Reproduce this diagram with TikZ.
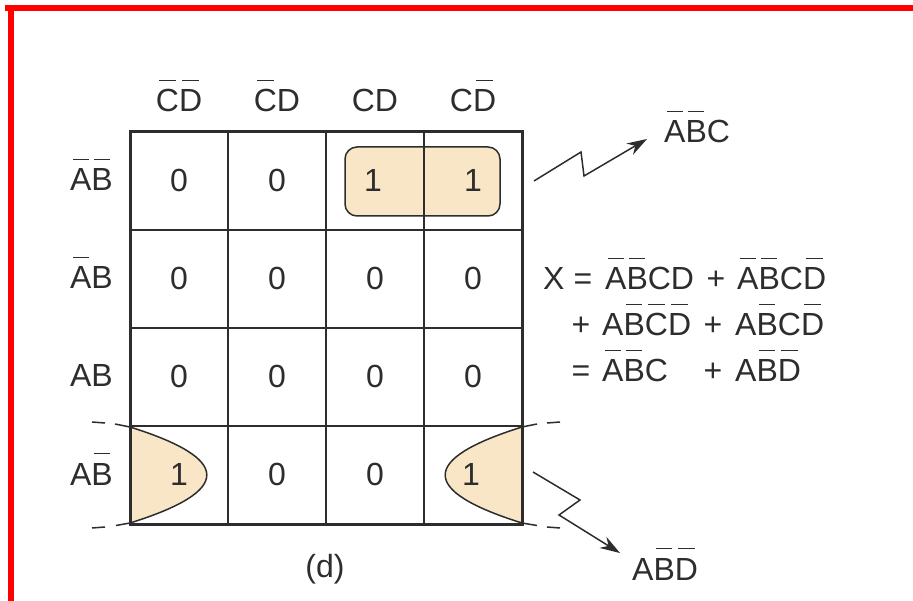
\documentclass[tikz,border=0pt]{standalone}
\usepackage{fontspec}
\setmainfont{Liberation Sans}
\usetikzlibrary{arrows.meta}
\definecolor{ink}{RGB}{45,45,45}
\definecolor{beige}{RGB}{249,230,199}
\newcommand\fs{\fontsize{32}{36}\selectfont}
\newcommand\ob[1]{{\setbox0\hbox{#1}\rlap{\hspace{0.13\wd0}\raisebox{\dimexpr\ht0+8.5pt\relax}{\rule{0.74\wd0}{1.5pt}}}\box0}}
\begin{document}
\begin{tikzpicture}[x=1pt,y=-1pt,
  txt/.style={font=\fs,text=ink,inner sep=0pt,anchor=base},
  lbl/.style={txt,anchor=base east},
  eq/.style={txt,anchor=base west},
  gridline/.style={draw=ink,line width=1.8pt},
  outer/.style={draw=ink,line width=3pt},
  loop/.style={draw=ink,line width=1.5pt,fill=beige},
  ext/.style={draw=ink,line width=1.5pt},
  bolt/.style={draw=ink,line width=1.5pt,-{Stealth[length=20pt,width=13pt]}}]
\useasboundingbox (0,0) rectangle (913,601);
% red frame
\fill[red] (5,5) rectangle (913,11);
\fill[red] (8,5) rectangle (14,601);
% groupings
\draw[loop,rounded corners=12pt] (345,147) rectangle (500,216);
\fill[beige] (130,427) .. controls (232.4,459) and (232.4,491) .. (130,523) -- cycle;
\draw[ext] (130,427) .. controls (232.4,459) and (232.4,491) .. (130,523);
\fill[beige] (522,427) .. controls (419.6,459) and (419.6,491) .. (522,523) -- cycle;
\draw[ext] (522,427) .. controls (419.6,459) and (419.6,491) .. (522,523);
% extensions
\draw[ext] (130,427) -- (115,424) (105,423) -- (92,422);
\draw[ext] (130,523) -- (116,525.5) (105,527) -- (92,528);
\draw[ext] (522,427) -- (537,424) (547,423) -- (560,422);
\draw[ext] (522,523) -- (537,525.5) (547,527) -- (560,528);
% grid
\foreach \x in {228,326,424} \draw[gridline] (\x,132) -- (\x,524);
\foreach \y in {230,328,426} \draw[gridline] (130,\y) -- (522,\y);
\draw[outer] (130,132) rectangle (522,524);
% column headers
\node[txt] (h1) at (179,112) {\ob{C}\ob{D}};
\node[txt] (h2) at (277,112) {\ob{C}D};
\node[txt] (h3) at (375,112) {CD};
\node[txt] (h4) at (473,112) {C\ob{D}};
% row labels
\node[lbl] (r1) at (113,191) {\ob{A}\ob{B}};
\node[lbl] (r2) at (113,289) {\ob{A}B};
\node[lbl] (r3) at (113,387) {AB};
\node[lbl] (r4) at (113,485) {A\ob{B}};
% cells
\node[txt] (c11) at (179,191.5) {0};
\node[txt] (c12) at (277,191.5) {0};
\node[txt] (c13) at (373,191.5) {1};
\node[txt] (c14) at (473,191.5) {1};
\node[txt] (c21) at (179,289.5) {0};
\node[txt] (c22) at (277,289.5) {0};
\node[txt] (c23) at (375,289.5) {0};
\node[txt] (c24) at (473,289.5) {0};
\node[txt] (c31) at (179,387.5) {0};
\node[txt] (c32) at (277,387.5) {0};
\node[txt] (c33) at (375,387.5) {0};
\node[txt] (c34) at (473,387.5) {0};
\node[txt] (c41) at (179,485.5) {1};
\node[txt] (c42) at (277,485.5) {0};
\node[txt] (c43) at (375,485.5) {0};
\node[txt] (c44) at (471,485.5) {1};
% equation
\node[eq] (x) at (543,290) {X};
\node[eq] (e1) at (573.5,290) {=};
\node[eq] (t1) at (605,290) {\ob{A}\ob{B}CD};
\node[eq] (p1) at (706.5,290) {+};
\node[eq] (t2) at (737,290) {\ob{A}\ob{B}C\ob{D}};
\node[eq] (p2) at (571.5,336) {+};
\node[eq] (t3) at (602,336) {A\ob{B}\ob{C}\ob{D}};
\node[eq] (p3) at (703.5,336) {+};
\node[eq] (t4) at (735,336) {A\ob{B}C\ob{D}};
\node[eq] (e2) at (571.5,382) {=};
\node[eq] (t5) at (602,382) {\ob{A}\ob{B}C};
\node[eq] (p4) at (703.5,382) {+};
\node[eq] (t6) at (735,382) {A\ob{B}\ob{D}};
% result labels
\node[eq] (abc) at (664,143) {\ob{A}\ob{B}C};
\node[eq] (abd) at (632,580) {A\ob{B}\ob{D}};
\node[txt] (cap) at (325,577) {(d)};
% lightning arrows
\coordinate (s1) at (534,181);
\coordinate (k1) at (581,152);
\coordinate (k2) at (584,176);
\coordinate (a1) at (647,139);
\draw[bolt] (s1) -- (k1) -- (k2) -- (a1);
\coordinate (s2) at (533,472);
\coordinate (k3) at (580,500);
\coordinate (k4) at (559,515);
\coordinate (a2) at (620,553);
\draw[bolt] (s2) -- (k3) -- (k4) -- (a2);
\end{tikzpicture}
\end{document}
